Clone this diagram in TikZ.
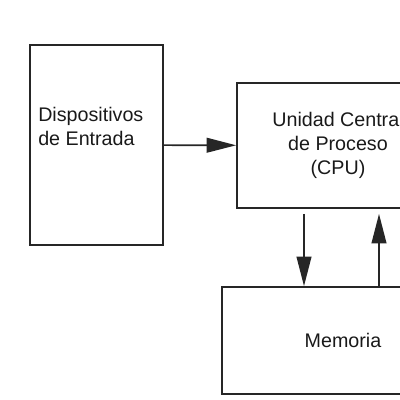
\documentclass[tikz,border=0pt]{standalone}
\usepackage{fontspec}
\setmainfont{Liberation Sans}
\usetikzlibrary{arrows.meta}

\begin{document}
\begin{tikzpicture}[x=0.025cm, y=-0.025cm,
        caja/.style={draw=black!85, line width=1.2pt, inner sep=0pt},
        texto/.style={text=black!90, font=\fontsize{14}{17}\selectfont, align=center},
        flecha/.style={draw=black!85, line width=1.2pt, -{Triangle[length=21pt, width=10.5pt]}}]
        \useasboundingbox (0,0) rectangle (400,400);
        \clip (0,0) rectangle (400,400);

        \node[caja, minimum width=3.325cm, minimum height=5cm] (entrada) at (96.5,145) {};
        \node[texto, align=left, inner sep=0pt, anchor=north west] (entradatxt) at (38,107) {Dispositivos\\de Entrada};
        \node[caja, texto, minimum width=5.05cm, minimum height=3.125cm] (cpu) at (338,145.5) {Unidad Central\\de Proceso\\(CPU)};
        \node[caja, texto, minimum width=6.05cm, minimum height=2.675cm] (mem) at (343,340.5) {Memoria};

        \coordinate (baja) at ([shift={(-34,5)}]cpu.south);
        \coordinate (sube) at ([shift={(41,5)}]cpu.south);
        \draw[flecha] (entrada) -- (cpu);
        \draw[flecha] (baja) -- (baja |- mem.north);
        \draw[flecha] (sube |- mem.north) -- (sube);
    \end{tikzpicture}
\end{document}
